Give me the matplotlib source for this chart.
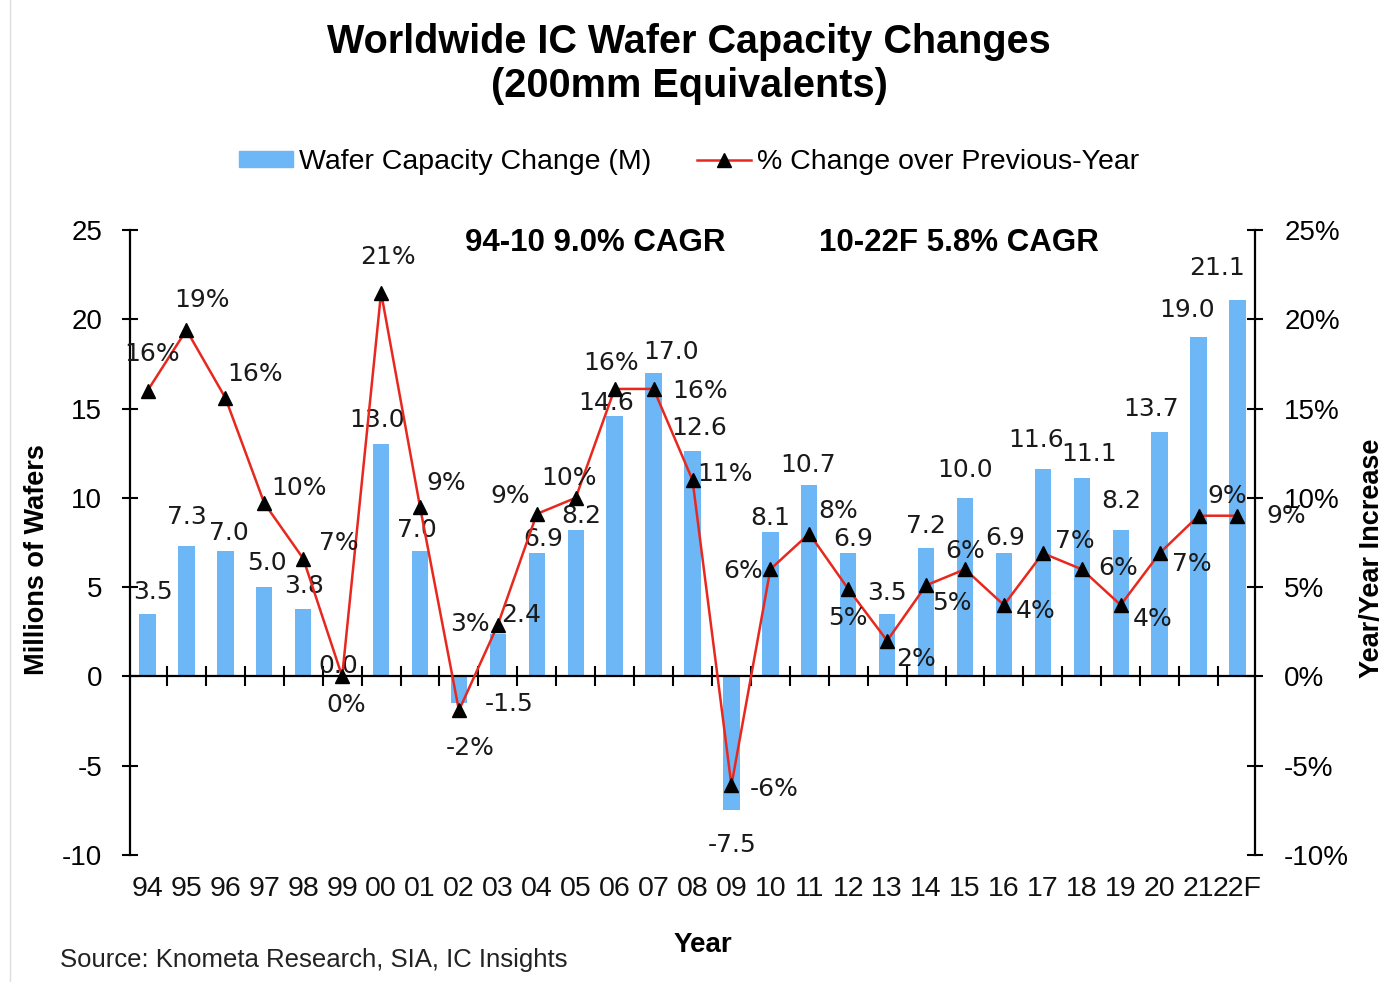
import numpy as np
import matplotlib.pyplot as plt
from matplotlib.patches import Patch
from matplotlib.lines import Line2D
from matplotlib.ticker import FuncFormatter

# ---- data ----
years = ["94", "95", "96", "97", "98", "99", "00", "01", "02", "03", "04", "05",
         "06", "07", "08", "09", "10", "11", "12", "13", "14", "15", "16", "17",
         "18", "19", "20", "21", "22F"]
capacity = [3.5, 7.3, 7.0, 5.0, 3.8, 0.0, 13.0, 7.0, -1.5, 2.4, 6.9, 8.2,
            14.6, 17.0, 12.6, -7.5, 8.1, 10.7, 6.9, 3.5, 7.2, 10.0, 6.9, 11.6,
            11.1, 8.2, 13.7, 19.0, 21.1]
pct_change = [16.0, 19.4, 15.6, 9.7, 6.6, 0.0, 21.5, 9.5, -1.9, 2.9, 9.1, 10.0,
              16.1, 16.1, 11.0, -6.1, 6.0, 8.0, 4.9, 2.0, 5.1, 6.0, 4.0, 6.9,
              6.0, 4.0, 6.9, 9.0, 9.0]
pct_labels = ["16%", "19%", "16%", "10%", "7%", "0%", "21%", "9%", "-2%", "3%",
              "9%", "10%", "16%", "16%", "11%", "-6%", "6%", "8%", "5%", "2%",
              "5%", "6%", "4%", "7%", "6%", "4%", "7%", "9%", "9%"]

# label placement (pixel offsets from bar end / marker)
bar_lbl_off = [(5, 22), (0, 29), (4, 18), (3, 24), (1, 23), (-4, 10), (-4, 24),
               (-3, 21), (50, -1), (23, 19), (6, 14), (6, 14), (-8, 13), (17, 21),
               (7, 23), (1, -35), (0, 14), (-1, 20), (5, 14), (0, 21), (0, 22),
               (0, 28), (1, 15), (-7, 29), (7, 24), (1, 29), (-9, 23), (-11, 27),
               (-20, 32)]
pct_lbl_off = [(5, 37), (16, 30), (30, 24), (35, 15), (36, 16), (4, -29), (7, 35),
               (26, 24), (11, -38), (-28, 1), (-27, 18), (-7, 20), (-4, 26),
               (46, -2), (32, 6), (43, -4), (-27, -2), (29, 23), (0, -29),
               (29, -18), (26, -18), (0, 18), (32, -6), (32, 12), (36, 1),
               (32, -14), (32, -11), (29, 20), (49, 0)]

bar_color = "#6db7f7"
line_color = "#e8281e"
W, H = 1396, 982

plt.rcParams["font.family"] = ["Liberation Sans", "DejaVu Sans"]
plt.rcParams["axes.unicode_minus"] = False

fig = plt.figure(figsize=(W / 100, H / 100), dpi=100)
ax = fig.add_axes([130 / W, 1 - 855 / H, 1125 / W, 625 / H])
x = np.arange(len(years))

ax.bar(x, capacity, width=0.42, color=bar_color, zorder=1)
ax.set_xlim(-0.45, len(years) - 0.55)
ax.set_ylim(-10, 25)
ax.set_yticks(range(-10, 30, 5))

ax2 = ax.twinx()
ax2.set_ylim(-10, 25)
ax2.set_yticks(range(-10, 30, 5))
ax2.yaxis.set_major_formatter(FuncFormatter(lambda v, p: f"{v:.0f}%"))
ax2.plot(x, pct_change, color=line_color, lw=1.8, marker="^", ms=10,
         mfc="black", mec="black", zorder=3)

for a in (ax, ax2):
    a.spines["top"].set_visible(False)
    a.spines["bottom"].set_visible(False)
    a.patch.set_visible(False)
ax.spines["left"].set_linewidth(1.6)
ax2.spines["right"].set_linewidth(1.6)
ax2.spines["left"].set_visible(False)
ax.spines["right"].set_visible(False)

ax.tick_params(axis="y", direction="inout", length=12, width=1.5, labelsize=20, pad=14)
ax2.tick_params(axis="y", direction="inout", length=12, width=1.5, labelsize=20, pad=15)

# category axis drawn at zero, ticks between categories
ax.spines["bottom"].set_visible(True)
ax.spines["bottom"].set_position(("data", 0))
ax.spines["bottom"].set_linewidth(1.6)
ax.spines["bottom"].set_zorder(2)
ax.set_xticks(x[:-1] + 0.5)
ax.set_xticklabels([])
ax.tick_params(axis="x", direction="inout", length=14, width=1.5)

for i, yr in enumerate(years):
    ax.annotate(yr, (i, -10), xytext=(0, -34), textcoords="offset pixels",
                ha="center", va="center", fontsize=20.5, color="#111111")

# data labels
for i, v in enumerate(capacity):
    dx, dy = bar_lbl_off[i]
    ax.annotate(f"{v:.1f}", (i, v), xytext=(dx, dy), textcoords="offset pixels",
                ha="center", va="center", fontsize=18, family="DejaVu Sans",
                color="#1a1a1a", zorder=5)
for i, v in enumerate(pct_change):
    dx, dy = pct_lbl_off[i]
    ax2.annotate(pct_labels[i], (i, v), xytext=(dx, dy), textcoords="offset pixels",
                 ha="center", va="center", fontsize=18, family="DejaVu Sans",
                 color="#1a1a1a", zorder=5)

# titles and notes
fig.text(689 / W, 1 - 64 / H, "Worldwide IC Wafer Capacity Changes\n(200mm Equivalents)",
         ha="center", va="center", fontsize=28.5, fontweight="bold", linespacing=1.2)
fig.text(595 / W, 1 - 243 / H, "94-10 9.0% CAGR", ha="center", va="center",
         fontsize=22.5, fontweight="bold")
fig.text(959 / W, 1 - 243 / H, "10-22F 5.8% CAGR", ha="center", va="center",
         fontsize=22.5, fontweight="bold")
fig.text(37 / W, 1 - 560 / H, "Millions of Wafers", rotation=90, ha="center",
         va="center", fontsize=19.5, fontweight="bold")
fig.text(1372 / W, 1 - 558 / H, "Year/Year Increase", rotation=90, ha="center",
         va="center", fontsize=19.5, fontweight="bold")
fig.text(703 / W, 1 - 945 / H, "Year", ha="center", va="center",
         fontsize=20, fontweight="bold")
fig.text(60 / W, 1 - 960 / H, "Source: Knometa Research, SIA, IC Insights",
         ha="left", va="center", fontsize=18.5, color="#222222")

handles = [Patch(color=bar_color, label="Wafer Capacity Change (M)"),
           Line2D([], [], color=line_color, lw=1.8, marker="^", ms=10,
                  mfc="black", mec="black", label="% Change over Previous-Year")]
fig.legend(handles=handles, loc="center", bbox_to_anchor=(689 / W, 1 - 162 / H),
           ncol=2, frameon=False, fontsize=20.5, handlelength=1.9, handleheight=0.45,
           handletextpad=0.2, columnspacing=1.6)

fig.add_artist(Line2D([10 / W, 10 / W], [0, 1], color="#dddddd", lw=1))

fig.savefig("out.png", dpi=100)
